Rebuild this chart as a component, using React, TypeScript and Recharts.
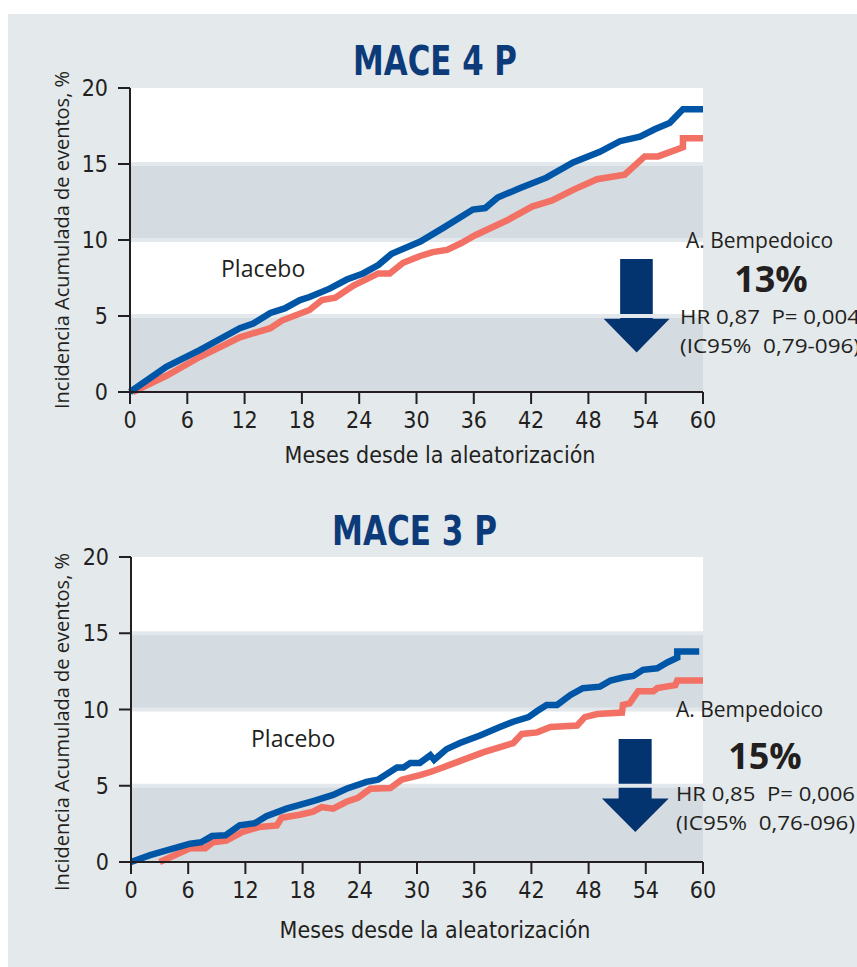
import React from "react";
import { LineChart, Line, XAxis, YAxis, ReferenceArea, ReferenceLine } from "recharts";

// ---- Data (months since randomization, cumulative incidence %) ----
const monthTicks = [0, 6, 12, 18, 24, 30, 36, 42, 48, 54, 60];
const pctTicks = [0, 5, 10, 15, 20];

// MACE 4 P
const mace4PlaceboM = [0, 3.8, 7.3, 11.5, 12.9, 14.7, 16.2, 17.8, 18.8, 20.9, 22.7, 24.4, 26, 27.4, 30.4, 32.8, 35.9, 37.2, 38.5, 40.8, 43.6, 46.4, 49.2, 51.3, 53.4, 55, 56.5, 57.9, 60];
const mace4PlaceboV = [0, 1.66, 2.76, 4.2, 4.5, 5.2, 5.5, 6.05, 6.25, 6.8, 7.4, 7.8, 8.35, 9.1, 9.9, 10.8, 12.0, 12.1, 12.8, 13.4, 14.1, 15.1, 15.8, 16.5, 16.8, 17.3, 17.7, 18.6, 18.6];
const mace4BempM = [0.3, 3.9, 7.3, 11.5, 14.7, 15.9, 18.8, 20.1, 21.5, 23.4, 26, 27.2, 28.6, 30.4, 31.7, 33.2, 34.7, 36.1, 39.5, 42.1, 44.2, 46.4, 48.9, 51.8, 53.9, 55.3, 57.9, 57.9, 60];
const mace4BempV = [0, 1.1, 2.3, 3.6, 4.2, 4.7, 5.4, 6.05, 6.2, 7.0, 7.8, 7.8, 8.5, 8.95, 9.2, 9.35, 9.8, 10.3, 11.3, 12.2, 12.6, 13.3, 14.0, 14.3, 15.5, 15.5, 16.1, 16.7, 16.7];

// MACE 3 P
const mace3PlaceboM = [0, 2, 6.2, 7.4, 8.5, 9.9, 11.4, 13, 14.2, 16.3, 19.1, 21.2, 22.6, 24.7, 25.9, 27.9, 28.6, 29.3, 30.3, 31.4, 31.8, 33.1, 34.5, 36.6, 38.7, 40.1, 41.7, 42.6, 43.6, 44.7, 46.1, 47.4, 49.2, 50.3, 51.6, 52.7, 53.7, 55.2, 56.3, 57.3, 57.3, 59.6];
const mace3PlaceboV = [0, 0.45, 1.2, 1.3, 1.7, 1.75, 2.4, 2.55, 3.0, 3.5, 4.0, 4.4, 4.8, 5.25, 5.4, 6.2, 6.2, 6.5, 6.5, 7.0, 6.7, 7.4, 7.8, 8.3, 8.85, 9.2, 9.5, 9.9, 10.3, 10.3, 10.95, 11.4, 11.5, 11.9, 12.1, 12.2, 12.6, 12.7, 13.1, 13.4, 13.8, 13.8];
const mace3BempM = [3, 6.2, 7.8, 8.6, 10, 11.8, 13.5, 15.3, 15.8, 17.7, 19.1, 20, 21.2, 22.6, 23.8, 25.1, 27.2, 28.4, 30.3, 31.4, 32.7, 34.2, 37, 40.1, 41, 42.6, 44, 46.8, 47.6, 48.9, 51.5, 51.6, 52.3, 53.2, 54.8, 55.2, 57.1, 57.3, 60];
const mace3BempV = [0, 0.9, 0.9, 1.3, 1.4, 2.0, 2.3, 2.4, 2.9, 3.1, 3.3, 3.6, 3.5, 3.95, 4.2, 4.8, 4.85, 5.4, 5.7, 5.9, 6.2, 6.55, 7.2, 7.8, 8.4, 8.5, 8.85, 8.95, 9.5, 9.7, 9.8, 10.3, 10.4, 11.2, 11.2, 11.4, 11.6, 11.9, 11.9];

// Annotation arrows, in data units
const arrow4 = { x1: 49.6, x2: 56.5, y1: 2.6, y2: 8.75 };
const arrow3 = { x1: 49.4, x2: 56.4, y1: 1.97, y2: 8.07 };

const toSeries = (m: number[], v: number[]) => m.map((mm, i) => ({ m: mm, v: v[i] }));

const BLUE = "#0056a6";
const SALMON = "#f27164";
const NAVY = "#04346f";
const INK = "#231f20";
const PANEL = "#e4e9ec";
const BAND = "#d4dbe1";
const NARROW = "'Liberation Sans Narrow', 'DejaVu Sans Condensed', 'Open Sans', sans-serif";
const SANS = "'Open Sans', 'Noto Sans', sans-serif";

const ArrowShape = (props: any) => {
  const { x, y, width, height } = props;
  const sx1 = x + width * 0.25;
  const sx2 = x + width * 0.745;
  const hy = y + height * 0.64;
  const pts = [
    [sx1, y], [sx2, y], [sx2, hy], [x + width, hy],
    [x + width / 2, y + height], [x, hy], [sx1, hy],
  ].map((p) => p.join(",")).join(" ");
  return <polygon points={pts} fill={NAVY} />;
};

function KMChart({ placebo, bemp, arrow, width, height, margin }: any) {
  return (
    <LineChart width={width} height={height} margin={margin}>
      <XAxis
        dataKey="m"
        type="number"
        domain={[0, 60]}
        ticks={monthTicks}
        interval={0}
        height={30}
        tickSize={12}
        tickMargin={8}
        axisLine={{ stroke: INK, strokeWidth: 2 }}
        tickLine={{ stroke: INK, strokeWidth: 2 }}
        tick={{ fill: INK, fontSize: 23, fontFamily: NARROW }}
        allowDuplicatedCategory={false}
      />
      <YAxis
        type="number"
        domain={[0, 20]}
        ticks={pctTicks}
        interval={0}
        width={60}
        tickSize={12}
        tickMargin={10}
        axisLine={{ stroke: INK, strokeWidth: 2 }}
        tickLine={{ stroke: INK, strokeWidth: 2 }}
        tick={{ fill: INK, fontSize: 23, fontFamily: NARROW }}
      />
      <ReferenceArea y1={0} y2={20} fill="#ffffff" fillOpacity={1} stroke="none" />
      <ReferenceArea y1={0} y2={5} fill={BAND} fillOpacity={1} stroke="none" />
      <ReferenceArea y1={10} y2={15} fill={BAND} fillOpacity={1} stroke="none" />
      <ReferenceLine y={5} stroke="#e3e8ec" strokeWidth={4} />
      <ReferenceLine y={10} stroke="#e3e8ec" strokeWidth={4} />
      <ReferenceLine y={15} stroke="#e3e8ec" strokeWidth={4} />
      <ReferenceArea
        x1={arrow.x1}
        x2={arrow.x2}
        y1={arrow.y1}
        y2={arrow.y2}
        shape={ArrowShape}
      />
      <Line
        data={bemp}
        dataKey="v"
        type="linear"
        stroke={SALMON}
        strokeWidth={6.5}
        dot={false}
        activeDot={false}
        isAnimationActive={false}
      />
      <Line
        data={placebo}
        dataKey="v"
        type="linear"
        stroke={BLUE}
        strokeWidth={6.5}
        dot={false}
        activeDot={false}
        isAnimationActive={false}
      />
    </LineChart>
  );
}

export default function App() {
  const t = { fill: INK, fontFamily: SANS };
  return (
    <div style={{ position: "relative", width: 857, height: 967, background: "#fff", overflow: "hidden" }}>
      <style>{"body{margin:0;overflow:hidden}"}</style>
      <div style={{ position: "absolute", left: 8, top: 14, width: 849, height: 953, background: PANEL }} />
      <div style={{ position: "absolute", left: 0, top: 0 }}>
        <KMChart
          placebo={toSeries(mace4PlaceboM, mace4PlaceboV)}
          bemp={toSeries(mace4BempM, mace4BempV)}
          arrow={arrow4}
          width={857}
          height={480}
          margin={{ top: 88, right: 154, bottom: 58, left: 70 }}
        />
      </div>
      <div style={{ position: "absolute", left: 0, top: 480 }}>
        <KMChart
          placebo={toSeries(mace3PlaceboM, mace3PlaceboV)}
          bemp={toSeries(mace3BempM, mace3BempV)}
          arrow={arrow3}
          width={857}
          height={487}
          margin={{ top: 77, right: 154, bottom: 75, left: 71 }}
        />
      </div>
      <svg width={857} height={967} style={{ position: "absolute", left: 0, top: 0, pointerEvents: "none" }}>
        {/* Titles */}
        <text x={353} y={75} textLength={164} lengthAdjust="spacingAndGlyphs" fill="#0d3b7a" fontFamily={NARROW} fontWeight="bold" fontSize={40}>MACE 4 P</text>
        <text x={332} y={545} textLength={165} lengthAdjust="spacingAndGlyphs" fill="#0d3b7a" fontFamily={NARROW} fontWeight="bold" fontSize={40}>MACE 3 P</text>
        {/* Axis titles */}
        <text transform="translate(69,240) rotate(-90)" textAnchor="middle" fontSize={20} {...t}>Incidencia Acumulada de eventos, %</text>
        <text transform="translate(69,722) rotate(-90)" textAnchor="middle" fontSize={20} {...t}>Incidencia Acumulada de eventos, %</text>
        <text x={440} y={463} textAnchor="middle" fontSize={23} fill={INK} fontFamily={NARROW}>Meses desde la aleatorización</text>
        <text x={435} y={938} textAnchor="middle" fontSize={23} fill={INK} fontFamily={NARROW}>Meses desde la aleatorización</text>
        {/* Series labels */}
        <text x={221} y={277} fontSize={23} {...t}>Placebo</text>
        <text x={251} y={747} fontSize={23} {...t}>Placebo</text>
        {/* Annotations MACE 4 P */}
        <text x={686} y={248} fontSize={21} {...t}>A. Bempedoico</text>
        <text x={771} y={292} textAnchor="middle" fontSize={36} fontWeight="bold" {...t}>13%</text>
        <text x={680} y={324} fontSize={20} textLength={180} lengthAdjust="spacingAndGlyphs" {...t} xmlSpace="preserve">HR 0,87  P= 0,004</text>
        <text x={680} y={353} fontSize={20} textLength={180} lengthAdjust="spacingAndGlyphs" {...t} xmlSpace="preserve">(IC95%  0,79-096)</text>
        {/* Annotations MACE 3 P */}
        <text x={676} y={717} fontSize={21} {...t}>A. Bempedoico</text>
        <text x={765} y={769} textAnchor="middle" fontSize={36} fontWeight="bold" {...t}>15%</text>
        <text x={676} y={801} fontSize={20} textLength={179} lengthAdjust="spacingAndGlyphs" {...t} xmlSpace="preserve">HR 0,85  P= 0,006</text>
        <text x={676} y={830} fontSize={20} textLength={179} lengthAdjust="spacingAndGlyphs" {...t} xmlSpace="preserve">(IC95%  0,76-096)</text>
      </svg>
    </div>
  );
}
